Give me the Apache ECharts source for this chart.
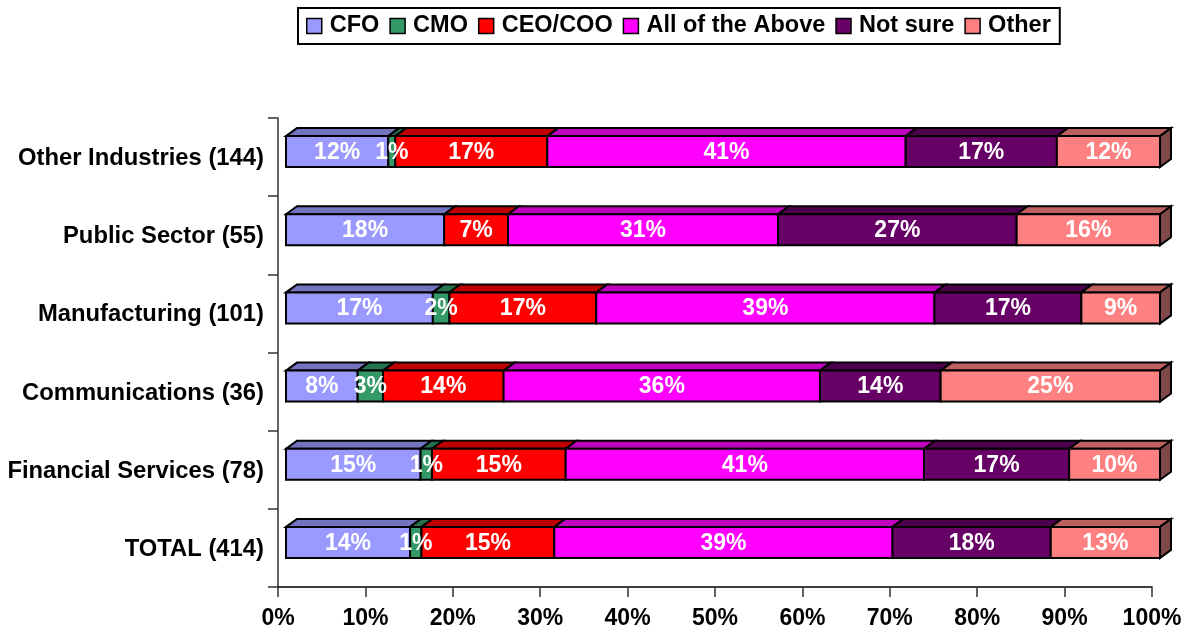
<!DOCTYPE html>
<html>
<head>
<meta charset="utf-8">
<style>
  html, body { margin: 0; padding: 0; background: #fff; }
  #chart { width: 1189px; height: 630px; }
</style>
<script src="https://cdn.jsdelivr.net/npm/echarts@6/dist/echarts.min.js"></script>
</head>
<body>
<div id="chart"></div>
<script>
// bottom row first, as a category axis counts them
const categories = ['TOTAL (414)', 'Financial Services (78)', 'Communications (36)', 'Manufacturing (101)', 'Public Sector (55)', 'Other Industries (144)'];
const cfo = [14.2, 15.4, 8.2, 16.8, 18.1, 11.7];
const cmo = [1.3, 1.3, 2.9, 1.9, 0, 0.8];
const ceoCoo = [15.2, 15.3, 13.8, 16.8, 7.3, 17.4];
const allAbove = [38.7, 41.0, 36.2, 38.7, 30.9, 41.0];
const notSure = [18.1, 16.6, 13.8, 16.8, 27.3, 17.3];
const other = [12.5, 10.4, 25.1, 9.0, 16.4, 11.8];

const seriesNames = ['CFO', 'CMO', 'CEO/COO', 'All of the Above', 'Not sure', 'Other'];
const seriesValues = [cfo, cmo, ceoCoo, allAbove, notSure, other];
const frontColors = ['#9999ff', '#339966', '#ff0000', '#ff00ff', '#660066', '#ff8080'];
const topColors = ['#7373bf', '#267350', '#bf0000', '#bf00bf', '#4d004d', '#bf6060'];
const sideColor = '#804848';

const fontFamily = '"Liberation Sans", Arial, sans-serif';

// 3d look of the bars, in pixels
const depthX = 11;
const depthY = 8;
const shiftX = 8;
const shiftY = -5.5;
const halfHeight = 15.5;

const makeRenderItem = (seriesIndex) => (params, api) => {
  const start = api.value(0);
  const row = api.value(1);
  const value = api.value(2);
  if (!value) return null;

  const a = api.coord([start, row]);
  const b = api.coord([start + value, row]);
  const x0 = a[0] + shiftX;
  const x1 = b[0] + shiftX;
  const yT = a[1] + shiftY - halfHeight;
  const yB = a[1] + shiftY + halfHeight;
  const lineStyle = {stroke: '#000', lineWidth: 2, lineJoin: 'miter'};

  const children = [
    {
      type: 'polygon',
      shape: {points: [[x0, yT], [x0 + depthX, yT - depthY], [x1 + depthX, yT - depthY], [x1, yT]]},
      style: {fill: topColors[seriesIndex], ...lineStyle}
    },
    {
      type: 'rect',
      shape: {x: x0, y: yT, width: x1 - x0, height: yB - yT},
      style: {fill: frontColors[seriesIndex], ...lineStyle}
    }
  ];

  // 只有最后一段画右侧面
  if (seriesIndex === seriesNames.length - 1) {
    children.push({
      type: 'polygon',
      shape: {points: [[x1, yT], [x1 + depthX, yT - depthY], [x1 + depthX, yB - depthY], [x1, yB]]},
      style: {fill: sideColor, ...lineStyle}
    });
  }

  children.push({
    type: 'text',
    z2: 100,
    style: {
      x: (x0 + x1) / 2,
      y: (yT + yB) / 2 + 1,
      text: Math.round(value) + '%',
      fill: '#fff',
      font: 'bold 23px ' + fontFamily,
      align: 'center',
      verticalAlign: 'middle'
    }
  });

  return {type: 'group', children};
};

const buildSeries = () => {
  const totals = categories.map(() => 0);
  return seriesNames.map((name, s) => {
    const data = categories.map((c, i) => {
      const item = [totals[i], i, seriesValues[s][i]];
      totals[i] += seriesValues[s][i];
      return item;
    });
    return {
      name,
      type: 'custom',
      coordinateSystem: 'cartesian2d',
      clip: false,
      silent: true,
      itemStyle: {color: frontColors[s]},
      encode: {x: 0, y: 1},
      renderItem: makeRenderItem(s),
      data
    };
  });
};

const myChart = echarts.init(document.getElementById('chart'), null, {renderer: 'canvas'});

const option = {
  backgroundColor: '#fff',
  animation: false,
  legend: {
    left: 298,
    top: 8,
    padding: [6, 9, 6, 8],
    itemWidth: 15,
    itemHeight: 15,
    itemGap: 10,
    icon: 'rect',
    borderColor: '#000',
    borderWidth: 2,
    itemStyle: {borderColor: '#000', borderWidth: 1.5},
    textStyle: {
      color: '#000',
      fontFamily,
      fontWeight: 'bold',
      fontSize: 23.5,
      padding: [0, 0, 0, 3]
    },
    data: seriesNames
  },
  grid: {left: 278, right: 37, top: 118, height: 469, containLabel: false},
  xAxis: {
    type: 'value',
    min: 0,
    max: 100,
    interval: 10,
    axisLine: {show: true, lineStyle: {color: '#000', width: 1.5}},
    axisTick: {show: true, length: 10, lineStyle: {color: '#333', width: 1.5}},
    splitLine: {show: false},
    axisLabel: {
      color: '#000',
      margin: 20,
      fontFamily,
      fontWeight: 'bold',
      fontSize: 23,
      formatter: '{value}%'
    }
  },
  yAxis: {
    type: 'category',
    data: categories,
    axisLine: {show: true, lineStyle: {color: '#333', width: 1.5}},
    axisTick: {show: true, length: 10, alignWithLabel: false, lineStyle: {color: '#333', width: 1.5}},
    axisLabel: {
      color: '#000',
      margin: 14,
      verticalAlign: 'top',
      lineHeight: 3,
      fontFamily,
      fontWeight: 'bold',
      fontSize: 23.8
    }
  },
  series: buildSeries()
};

option && myChart.setOption(option);
</script>
</body>
</html>
